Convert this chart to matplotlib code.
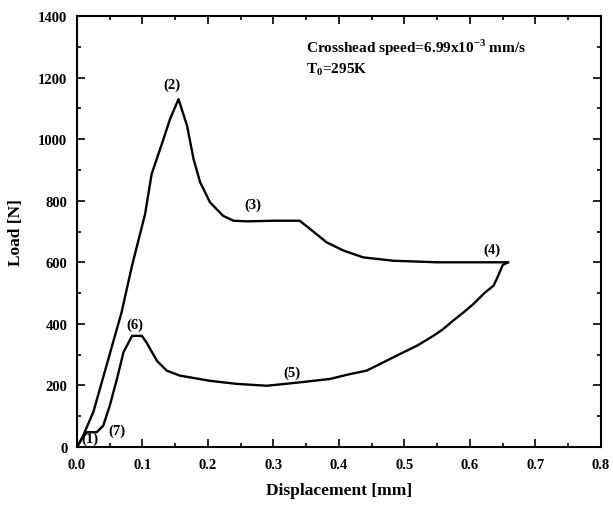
import matplotlib
matplotlib.use("Agg")
import matplotlib.pyplot as plt
import numpy as np
from matplotlib.ticker import MultipleLocator

plt.rcParams['font.family'] = ['Liberation Serif', 'DejaVu Serif']
plt.rcParams['font.weight'] = 'bold'
plt.rcParams['mathtext.fontset'] = 'custom'
plt.rcParams['mathtext.rm'] = 'Liberation Serif:bold'

# loading path (1) -> (2) -> (3) -> (4)
load_x = [0.0, 0.008, 0.025, 0.045, 0.068, 0.084, 0.104, 0.114, 0.132, 0.142, 0.155,
          0.168, 0.178, 0.188, 0.203, 0.223, 0.239, 0.26, 0.30, 0.34, 0.356, 0.381,
          0.407, 0.437, 0.483, 0.55, 0.62, 0.658]
load_y = [0, 30, 114, 264, 437, 589, 757, 887, 1000, 1065, 1130,
          1044, 935, 860, 795, 751, 735, 733, 735, 735, 708, 665,
          638, 616, 605, 600, 600, 600]

# unloading path (4) -> (5) -> (6) -> (7)
unload_x = [0.658, 0.650, 0.643, 0.636, 0.623, 0.605, 0.590, 0.574, 0.559, 0.544, 0.519,
            0.493, 0.463, 0.442, 0.417, 0.386, 0.340, 0.290, 0.244, 0.203, 0.157, 0.137,
            0.122, 0.106, 0.099, 0.084, 0.071, 0.061, 0.050, 0.040, 0.030, 0.015, 0.007, 0.0]
unload_y = [600, 591, 556, 524, 502, 464, 437, 410, 383, 361, 329,
            302, 270, 248, 237, 221, 210, 199, 205, 215, 232, 248,
            280, 340, 361, 361, 308, 221, 134, 69, 48, 48, 26, 0]

point_labels = ['(1)', '(2)', '(3)', '(4)', '(5)', '(6)', '(7)']
label_x = [0.02, 0.145, 0.269, 0.633, 0.328, 0.089, 0.061]
label_y = [28, 1179, 789, 643, 243, 400, 53]

fig = plt.figure(figsize=(6.13, 5.06), dpi=100)
ax = fig.add_axes([0.1256, 0.1146, 0.8548, 0.8518])

ax.plot(load_x, load_y, color='black', lw=1.7)
ax.plot(unload_x, unload_y, color='black', lw=1.7)

for s, lx, ly in zip(point_labels, label_x, label_y):
    ax.text(lx, ly, s, fontsize=10.5, fontweight='bold', ha='center', va='center')

ax.text(0.35, 1299, r'Crosshead speed=6.99x10$^{-3}$ mm/s', fontsize=11,
        fontweight='bold', ha='left', va='center')
ax.text(0.35, 1228, r'T$_0$=295K', fontsize=11, fontweight='bold', ha='left', va='center')

ax.set_xlim(0, 0.8)
ax.set_ylim(0, 1400)
ax.xaxis.set_major_locator(MultipleLocator(0.1))
ax.xaxis.set_minor_locator(MultipleLocator(0.05))
ax.yaxis.set_major_locator(MultipleLocator(200))
ax.yaxis.set_minor_locator(MultipleLocator(100))
ax.xaxis.set_major_formatter(plt.FormatStrFormatter('%.1f'))
ax.tick_params(which='both', direction='in', top=True, right=True, labelsize=10.5, width=1.2)
ax.tick_params(which='major', length=6)
ax.tick_params(which='minor', length=3)
ax.tick_params(axis='x', pad=8)
ax.tick_params(axis='y', pad=7)
for sp in ax.spines.values():
    sp.set_linewidth(1.5)

ax.set_xlabel('Displacement [mm]', fontsize=12.5, fontweight='bold', labelpad=8)
ax.set_ylabel('Load [N]', fontsize=12.5, fontweight='bold', labelpad=10)

fig.savefig('out.png', dpi=100)
